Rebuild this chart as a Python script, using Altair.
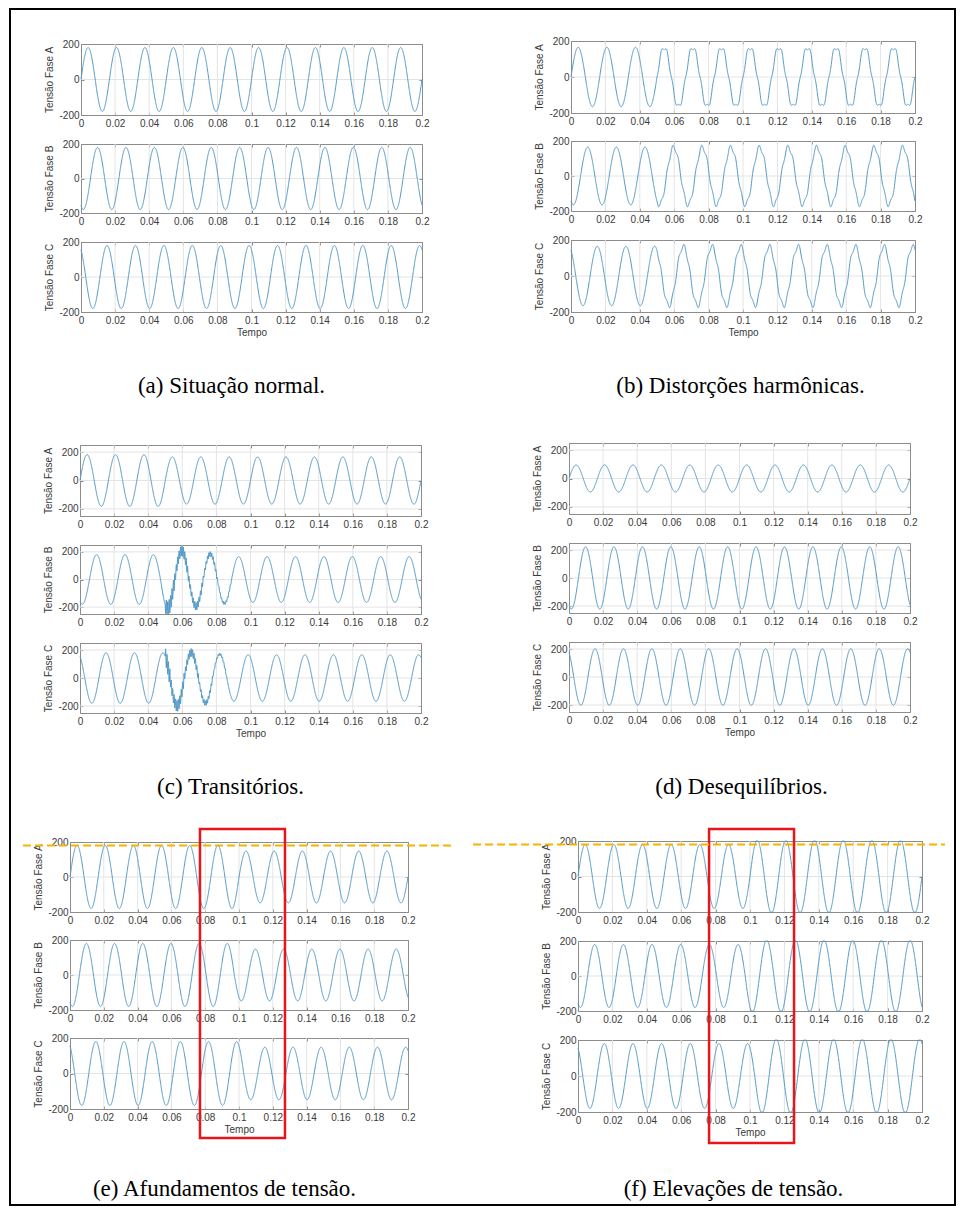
import numpy as np
import pandas as pd
import altair as alt

# ---------------- values ----------------
time_ticks = [0, 0.02, 0.04, 0.06, 0.08, 0.1, 0.12, 0.14, 0.16, 0.18, 0.2]
volt_ticks = [-200, 0, 200]
grid_time = [0.02, 0.04, 0.06, 0.08, 0.1, 0.12, 0.14, 0.16, 0.18]
grid_volt_tight = [0]
grid_volt_wide = [-200, 0, 200]

phases = ["A", "B", "C"]
phase_angle_deg = [0, -120, 120]
fundamental_hz = 60

# peak value of every half cycle of the fundamental (half cycles k = -1 ... 24)
peaks_a_A = [180] * 26
peaks_a_B = [180] * 26
peaks_a_C = [180] * 26
peaks_b_A = [165] * 26
peaks_b_B = [165] * 26
peaks_b_C = [165] * 26
peaks_c_A = [182] * 7 + [166] * 19
peaks_c_B = [180] * 6 + [212, 208, 195, 185, 173] + [166] * 15
peaks_c_C = [180] * 8 + [200, 182, 180, 170] + [166] * 14
peaks_d_A = [95] * 26
peaks_d_B = [222] * 26
peaks_d_C = [202] * 26
peaks_e_A = [180] * 13 + [148] * 13
peaks_e_B = [180] * 12 + [148] * 14
peaks_e_C = [180] * 14 + [148] * 12
peaks_f_A = [180] * 13 + [206] * 13
peaks_f_B = [180] * 12 + [206] * 14
peaks_f_C = [180] * 14 + [206] * 12

# (b) 5th harmonic present from 0.05 s
harmonic_order = 5
harmonic_peak = 13
harmonic_start = 0.05

# (c) high-frequency transient from 0.05 s, peak per half cycle
transient_start = 0.05
transient_hz = 1200
transient_c_B = [0] * 6 + [55, 38, 28, 18, 10] + [0] * 15
transient_c_C = [0] * 7 + [60, 40, 28, 18, 9] + [0] * 14
transient_sign_B = -1
transient_sign_C = 1

# (e)/(f) annotations (time in s, level in phase-A volts)
box_e_time = [0.0769, 0.1272]
box_e_volt = [274, -1491]
box_f_time = [0.0762, 0.1256]
box_f_volt = [268, -1501]
dash_e_time = [-0.0278, 0.2278]
dash_f_time = [-0.061, 0.2134]
dash_level = [180]

captions = {
    "a": "(a) Situação normal.",
    "b": "(b) Distorções harmônicas.",
    "c": "(c) Transitórios.",
    "d": "(d) Desequilíbrios.",
    "e": "(e) Afundamentos de tensão.",
    "f": "(f) Elevações de tensão.",
}

peak_lists = {
    "aA": peaks_a_A, "aB": peaks_a_B, "aC": peaks_a_C,
    "bA": peaks_b_A, "bB": peaks_b_B, "bC": peaks_b_C,
    "cA": peaks_c_A, "cB": peaks_c_B, "cC": peaks_c_C,
    "dA": peaks_d_A, "dB": peaks_d_B, "dC": peaks_d_C,
    "eA": peaks_e_A, "eB": peaks_e_B, "eC": peaks_e_C,
    "fA": peaks_f_A, "fB": peaks_f_B, "fC": peaks_f_C,
}

# ---------------- waveform table ----------------
t = np.round(np.arange(2001) * 1e-4, 4)
omega = 2 * np.pi * fundamental_hz
cols = {"t": t}
for key, pk in peak_lists.items():
    panel, ph = key[0], key[1]
    ang = np.deg2rad(phase_angle_deg[phases.index(ph)])
    theta = omega * t + ang
    idx = np.clip(np.floor(theta / np.pi).astype(int) + 1, 0, 25)
    v = np.asarray(pk, dtype=float)[idx] * np.sin(theta)
    if panel == "b":
        v = v - harmonic_peak * np.sin(harmonic_order * omega * t) * (t >= harmonic_start)
    if panel == "c" and ph in ("B", "C"):
        hf = np.asarray(transient_c_B if ph == "B" else transient_c_C, dtype=float)[idx]
        sgn = transient_sign_B if ph == "B" else transient_sign_C
        v = v + sgn * hf * np.sin(2 * np.pi * transient_hz * (t - transient_start)) * (t >= transient_start)
    cols[key] = np.round(v, 1)
wave = pd.DataFrame(cols)

# ---------------- layout (image pixels) ----------------
OX, OY = 10, 9
W, H = 945, 1196
geo = {
    "a": dict(x=(81, 422), rows=[(44, 115), (144, 213), (242, 312)], ydom=(-200, 200), cap=(231, 385)),
    "b": dict(x=(571, 915), rows=[(41, 113), (141, 211), (240, 312)], ydom=(-200, 200), cap=(740, 385)),
    "c": dict(x=(80, 421), rows=[(445, 516), (545, 614), (643, 713)], ydom=(-250, 250), cap=(230, 786)),
    "d": dict(x=(569, 910), rows=[(443, 514), (543, 613), (642, 712)], ydom=(-250, 250), cap=(741, 786)),
    "e": dict(x=(70, 408), rows=[(842, 912), (940, 1010), (1038, 1109)], ydom=(-200, 200), cap=(224, 1188)),
    "f": dict(x=(578, 922), rows=[(841, 912), (941, 1011), (1040, 1112)], ydom=(-200, 200), cap=(733, 1188)),
}

FRAME = "#8c8c8c"
GRID = "#e4e4e4"
LINE = "#5198c6"
TEXT = "#3a3a3a"
RED = "#e8151b"
ORANGE = "#f4b400"
LBL = "datum.value + ''"

dummy = pd.DataFrame({"t": [0.1], "v": [0.0]})


def scales(p, i, clamp=True):
    g = geo[p]
    x0, x1 = g["x"][0] - OX, g["x"][1] - OX
    yt, yb = g["rows"][i][0] - OY, g["rows"][i][1] - OY
    xs = alt.Scale(domain=[0, 0.2], range=[x0, x1], nice=False, zero=False)
    if clamp:
        ys = alt.Scale(domain=list(g["ydom"]), range=[yb, yt], nice=False, zero=False, clamp=True)
    else:
        ys = alt.Scale(domain=list(g["ydom"]), range=[yb, yt], nice=False, zero=False)
    return xs, ys, x0, x1, yt, yb


def subplot(p, i):
    ph = phases[i]
    key = p + ph
    g = geo[p]
    xs, ys, x0, x1, yt, yb = scales(p, i)
    ydom = list(g["ydom"])
    gy = grid_volt_wide if ydom[1] > 200 else grid_volt_tight

    grid_v = alt.Chart(pd.DataFrame({"g": grid_time})).mark_rule(color=GRID, strokeWidth=1).encode(
        x=alt.X("g:Q", scale=xs, axis=None),
        y=alt.YDatum(datum=ydom[0], scale=ys, axis=None),
        y2=alt.Y2Datum(datum=ydom[1]),
    )
    grid_h = alt.Chart(pd.DataFrame({"g": gy})).mark_rule(color=GRID, strokeWidth=1).encode(
        y=alt.Y("g:Q", scale=ys, axis=None),
        x=alt.XDatum(datum=0, scale=xs, axis=None),
        x2=alt.X2Datum(datum=0.2),
    )

    if i == 2:
        ax_x = alt.Axis(orient="bottom", offset=yb - H, values=time_ticks, labelExpr=LBL,
                        labelFlush=False, labelOverlap=False, labelPadding=3, ticks=False,
                        grid=False, domain=True, title="Tempo", titlePadding=2)
    else:
        ax_x = alt.Axis(orient="bottom", offset=yb - H, values=time_ticks, labelExpr=LBL,
                        labelFlush=False, labelOverlap=False, labelPadding=3, ticks=False,
                        grid=False, domain=True, title=None)
    ax_y = alt.Axis(orient="left", offset=-x0, values=volt_ticks, labelExpr=LBL,
                    labelFlush=False, labelOverlap=False, labelPadding=2, ticks=False,
                    grid=False, domain=True, title=f"Tensão Fase {ph}", titlePadding=4)
    line = alt.Chart().mark_line(color=LINE, strokeWidth=1).encode(
        x=alt.X("t:Q", scale=xs, axis=ax_x),
        y=alt.Y(f"{key}:Q", scale=ys, axis=ax_y),
    )

    frame = alt.Chart(dummy).mark_point(opacity=0).encode(
        x=alt.X("t:Q", scale=xs, axis=alt.Axis(orient="bottom", offset=yt - H, values=time_ticks,
                                               labels=False, ticks=True, tickSize=3, grid=False,
                                               domain=True, title=None)),
        y=alt.Y("v:Q", scale=ys, axis=alt.Axis(orient="left", offset=-x1, values=volt_ticks,
                                               labels=False, ticks=True, tickSize=3, grid=False,
                                               domain=True, title=None)),
    )

    if i == 2:
        cx, cy = g["cap"]
        ax_bt = alt.Axis(orient="top", offset=-yb, values=time_ticks, labels=False, ticks=True,
                         tickSize=3, grid=False, domain=False, title=captions[p],
                         titleX=cx - OX, titleY=cy - OY - yb, titleAngle=0, titleAlign="center",
                         titleBaseline="middle", titleFont="Liberation Serif", titleFontSize=23,
                         titleFontWeight="normal", titleColor="black")
    else:
        ax_bt = alt.Axis(orient="top", offset=-yb, values=time_ticks, labels=False, ticks=True,
                         tickSize=3, grid=False, domain=False, title=None)
    inner_ticks = alt.Chart(dummy).mark_point(opacity=0).encode(
        x=alt.X("t:Q", scale=xs, axis=ax_bt),
        y=alt.Y("v:Q", scale=ys, axis=alt.Axis(orient="right", offset=x0 - W, values=volt_ticks,
                                               labels=False, ticks=True, tickSize=3, grid=False,
                                               domain=False, title=None)),
    )
    return alt.layer(grid_v, grid_h, line, frame, inner_ticks).resolve_axis(x="independent", y="independent")


def annotation(p, box_t, box_v, dash_t):
    xs, ys, *_ = scales(p, 0, clamp=False)
    box = alt.Chart(pd.DataFrame({"x0": [box_t[0]], "x1": [box_t[1]], "y0": [box_v[0]], "y1": [box_v[1]]})).mark_rect(
        fillOpacity=0, stroke=RED, strokeWidth=2.5).encode(
        x=alt.X("x0:Q", scale=xs, axis=None), x2="x1:Q",
        y=alt.Y("y0:Q", scale=ys, axis=None), y2="y1:Q",
    )
    dash = alt.Chart(pd.DataFrame({"x0": [dash_t[0]], "x1": [dash_t[1]], "y0": dash_level})).mark_rule(
        color=ORANGE, strokeWidth=2, strokeDash=[8, 4]).encode(
        x=alt.X("x0:Q", scale=xs, axis=None), x2="x1:Q",
        y=alt.Y("y0:Q", scale=ys, axis=None),
    )
    return alt.layer(box, dash)


layers = []
for p in ["a", "b", "c", "d", "e", "f"]:
    for i in range(3):
        layers.append(subplot(p, i))
layers.append(annotation("e", box_e_time, box_e_volt, dash_e_time))
layers.append(annotation("f", box_f_time, box_f_volt, dash_f_time))

chart = (
    alt.layer(*layers, data=wave)
    .resolve_scale(x="independent", y="independent")
    .properties(width=W, height=H, padding={"left": 2, "top": 1, "right": 1, "bottom": 1},
                autosize=alt.AutoSizeParams(type="none"))
    .configure_view(stroke="black", strokeWidth=2)
    .configure_axis(labelFont="Liberation Sans", labelFontSize=10, labelColor=TEXT,
                    titleFont="Liberation Sans", titleFontSize=10, titleFontWeight="normal",
                    titleColor=TEXT, domainColor=FRAME, tickColor=FRAME, domainWidth=1, tickWidth=1)
)

chart.save("out.html", embed_options={"renderer": "svg", "actions": False})
